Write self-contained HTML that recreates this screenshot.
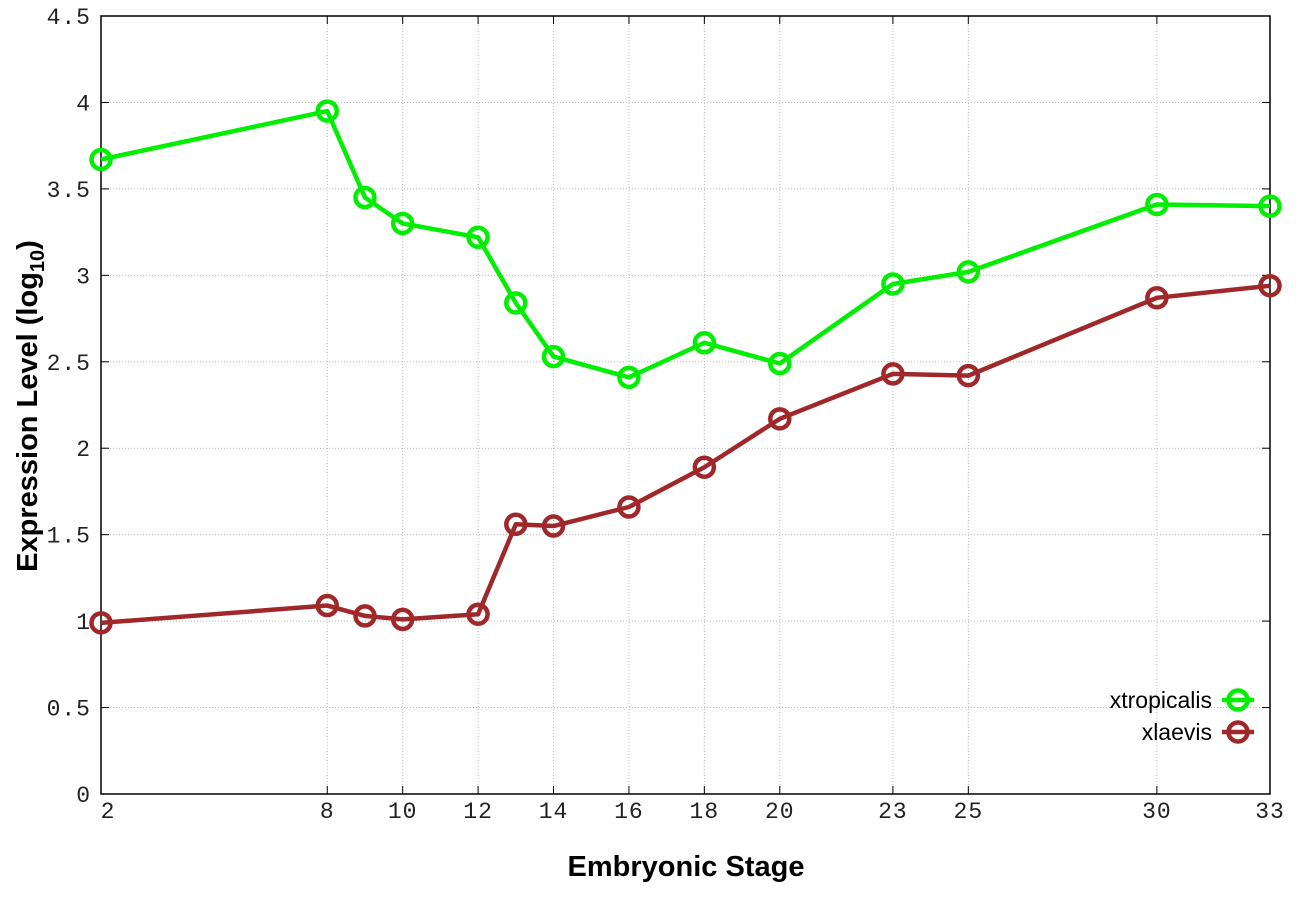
<!DOCTYPE html>
<html><head><meta charset="utf-8"><style>
html,body{margin:0;padding:0;background:#fff;}
svg{display:block}
</style></head><body>
<svg id="s" width="1296" height="907" xmlns="http://www.w3.org/2000/svg"></svg>
<script>
const L=101,R=1270,T=16,B=794;
const X=s=>L+(s-2)*(R-L)/31, Y=v=>B-v*(B-T)/4.5;
let h='';
const g=[[2,3.67],[8,3.95],[9,3.45],[10,3.30],[12,3.22],[13,2.84],[14,2.53],[16,2.41],[18,2.61],[20,2.49],[23,2.95],[25,3.02],[30,3.41],[33,3.40]];
const r=[[2,0.99],[8,1.09],[9,1.03],[10,1.01],[12,1.04],[13,1.56],[14,1.55],[16,1.66],[18,1.89],[20,2.17],[23,2.43],[25,2.42],[30,2.87],[33,2.94]];
const xt=[2,8,10,12,14,16,18,20,23,25,30,33];
const F='font-family="Liberation Mono,monospace" font-size="23" fill="#222" letter-spacing="1"';
for(const s of xt){const x=X(s);
 h+=`<line x1="${x}" y1="${T}" x2="${x}" y2="${B}" stroke="#bbb" stroke-width="1" stroke-dasharray="1,2"/>`;
 h+=`<line x1="${x}" y1="${B}" x2="${x}" y2="${B-8}" stroke="#000"/><line x1="${x}" y1="${T}" x2="${x}" y2="${T+8}" stroke="#000"/>`;
 h+=`<text x="${x+(s==2?7:0)}" y="${B+24}" text-anchor="middle" ${F}>${s}</text>`;}
for(let i=0;i<=9;i++){const v=i*0.5,y=Y(v);
 if(i>0&&i<9)h+=`<line x1="${L}" y1="${y}" x2="${R}" y2="${y}" stroke="#bbb" stroke-width="1" stroke-dasharray="1,2"/>`;
 h+=`<line x1="${L}" y1="${y}" x2="${L+8}" y2="${y}" stroke="#000"/><line x1="${R}" y1="${y}" x2="${R-8}" y2="${y}" stroke="#000"/>`;
 h+=`<text x="${L-10}" y="${y+8}" text-anchor="end" ${F}>${i%2?v.toFixed(1):v}</text>`;}
h+=`<rect x="${L}" y="${T}" width="${R-L}" height="${B-T}" fill="none" stroke="#000" stroke-width="1.5"/>`;
function ser(d,c){h+=`<polyline points="${d.map(p=>X(p[0])+','+Y(p[1])).join(' ')}" fill="none" stroke="${c}" stroke-width="4.5" stroke-linejoin="round"/>`;
 for(const p of d)h+=`<circle cx="${X(p[0])}" cy="${Y(p[1])}" r="9.5" fill="none" stroke="${c}" stroke-width="4.5"/>`;}
ser(g,'#00ee00');ser(r,'#a0282a');
function leg(y,t,c){h+=`<line x1="1222" y1="${y}" x2="1254" y2="${y}" stroke="${c}" stroke-width="4.5"/><circle cx="1238" cy="${y}" r="9.5" fill="none" stroke="${c}" stroke-width="4.5"/>`;
 h+=`<text x="1212" y="${y+8}" text-anchor="end" font-family="Liberation Sans,sans-serif" font-size="23" fill="#000">${t}</text>`;}
leg(700,'xtropicalis','#00ee00');leg(732,'xlaevis','#a0282a');
h+=`<text x="686" y="876" text-anchor="middle" font-family="Liberation Sans,sans-serif" font-size="29" font-weight="bold">Embryonic Stage</text>`;
h+=`<text transform="translate(37,406) rotate(-90)" text-anchor="middle" font-family="Liberation Sans,sans-serif" font-size="29" font-weight="bold">Expression Level (log<tspan font-size="20" dy="7">10</tspan><tspan dy="-7">)</tspan></text>`;
document.getElementById('s').innerHTML=h;
</script>
</body></html>
